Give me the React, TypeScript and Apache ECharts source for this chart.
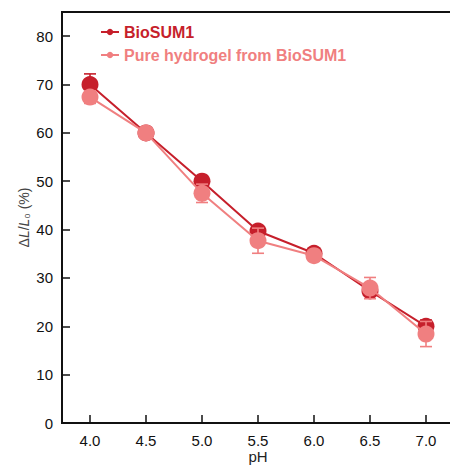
import React, { useEffect, useRef } from "react";
import * as echarts from "echarts";

const pH = [4.0, 4.5, 5.0, 5.5, 6.0, 6.5, 7.0];
const bioSUM1 = [70.0, 60.0, 50.0, 39.7, 35.1, 27.3, 20.0];
const bioSUM1Err = [2.2, 1.0, 1.1, 1.0, 0.8, 1.0, 1.3];
const pureHydrogel = [67.4, 60.0, 47.5, 37.7, 34.6, 27.9, 18.4];
const pureHydrogelErr = [1.3, 1.0, 1.9, 2.6, 0.8, 2.2, 2.6];
const xTicks = [4.0, 4.5, 5.0, 5.5, 6.0, 6.5, 7.0];
const yTicks = [0, 10, 20, 30, 40, 50, 60, 70, 80];

const DARK = "#c61f2b";
const LIGHT = "#f07f80";

function errData(vals: number[], errs: number[]) {
  return pH.map((x, i) => [x, vals[i] - errs[i], vals[i] + errs[i]]);
}

function errRender(color: string) {
  return (params: any, api: any) => {
    const x = api.value(0);
    const lo = api.coord([x, api.value(1)]);
    const hi = api.coord([x, api.value(2)]);
    const hw = 6;
    const style = { stroke: color, lineWidth: 1.6 };
    return {
      type: "group",
      children: [
        { type: "line", shape: { x1: lo[0], y1: lo[1], x2: hi[0], y2: hi[1] }, style },
        { type: "line", shape: { x1: lo[0] - hw, y1: lo[1], x2: lo[0] + hw, y2: lo[1] }, style },
        { type: "line", shape: { x1: hi[0] - hw, y1: hi[1], x2: hi[0] + hw, y2: hi[1] }, style },
      ],
    };
  };
}

export default function App() {
  const ref = useRef<HTMLDivElement>(null);
  useEffect(() => {
    if (!ref.current) return;
    document.body.style.margin = "0";
    document.body.style.overflow = "hidden";
    const chart = echarts.init(ref.current, undefined, { renderer: "svg" });
    const font = "Liberation Sans, Arial, sans-serif";
    chart.setOption({
      animation: false,
      backgroundColor: "#ffffff",
      grid: {
        left: 62,
        top: 12,
        width: 392,
        height: 411,
        show: true,
        borderColor: "#111",
        borderWidth: 2,
        containLabel: false,
        outerBoundsMode: "none",
      },
      legend: {
        left: 95,
        top: 19,
        orient: "vertical",
        itemWidth: 18,
        itemHeight: 8,
        itemGap: 7,
        textStyle: { fontFamily: font, fontSize: 16, fontWeight: "bold" },
        data: [
          { name: "BioSUM1", textStyle: { color: DARK } },
          { name: "Pure hydrogel from BioSUM1", textStyle: { color: LIGHT } },
        ],
      },
      xAxis: {
        type: "value",
        min: 3.75,
        max: 7.25,
        name: "pH",
        nameLocation: "middle",
        nameGap: 26,
        nameMoveOverlap: false,
        nameTextStyle: { fontFamily: font, fontSize: 15, color: "#222" },
        axisLine: { show: true, lineStyle: { color: "#111", width: 2 } },
        axisTick: { show: true, inside: true, length: 8, lineStyle: { color: "#111", width: 1.5 }, customValues: xTicks },
        axisLabel: {
          fontFamily: font,
          fontSize: 15,
          color: "#111",
          margin: 10,
          customValues: xTicks,
          formatter: (v: number) => v.toFixed(1),
        },
        splitLine: { show: false },
      },
      yAxis: {
        type: "value",
        min: 0,
        max: 85,
        name: "{n|Δ}{i|L}{n|/}{i|L}{s|₀}{n| (%)}",
        nameLocation: "middle",
        nameGap: 31,
        nameMoveOverlap: false,
        nameTextStyle: {
          fontFamily: font,
          fontSize: 14,
          color: "#444",
          rich: {
            n: { fontFamily: font, fontSize: 14, color: "#444" },
            i: { fontFamily: font, fontSize: 14, color: "#444", fontStyle: "italic" },
            s: { fontFamily: font, fontSize: 13, color: "#444" },
          },
        },
        axisLine: { show: true, lineStyle: { color: "#111", width: 2 } },
        axisTick: { show: true, inside: true, length: 8, lineStyle: { color: "#111", width: 1.5 }, customValues: yTicks },
        axisLabel: { fontFamily: font, fontSize: 15, color: "#111", margin: 9, customValues: yTicks },
        splitLine: { show: false },
      },
      series: [
        {
          type: "custom",
          name: "BioSUM1 err",
          renderItem: errRender(DARK),
          data: errData(bioSUM1, bioSUM1Err),
          z: 2,
          silent: true,
        },
        {
          type: "line",
          name: "BioSUM1",
          data: pH.map((x, i) => [x, bioSUM1[i]]),
          color: DARK,
          symbol: "circle",
          symbolSize: 17,
          lineStyle: { width: 2, color: DARK },
          itemStyle: { color: DARK },
          z: 3,
        },
        {
          type: "custom",
          name: "Pure err",
          renderItem: errRender(LIGHT),
          data: errData(pureHydrogel, pureHydrogelErr),
          z: 4,
          silent: true,
        },
        {
          type: "line",
          name: "Pure hydrogel from BioSUM1",
          data: pH.map((x, i) => [x, pureHydrogel[i]]),
          color: LIGHT,
          symbol: "circle",
          symbolSize: 17,
          lineStyle: { width: 2, color: LIGHT },
          itemStyle: { color: LIGHT },
          z: 5,
        },
      ],
    });
    return () => chart.dispose();
  }, []);
  return <div ref={ref} style={{ width: 450, height: 467, background: "#fff" }} />;
}
